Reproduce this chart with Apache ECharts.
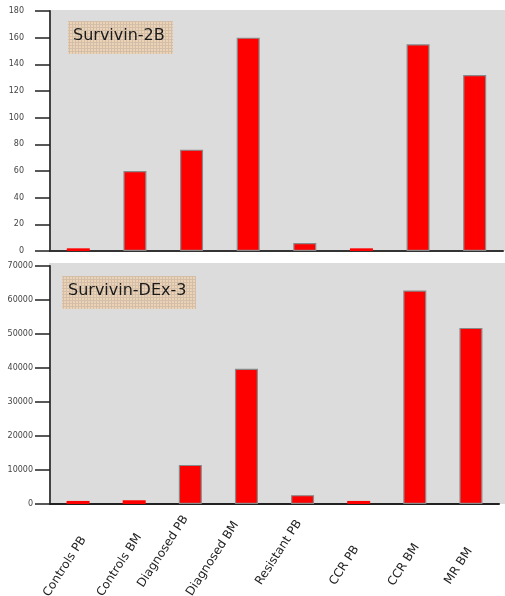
<!DOCTYPE html>
<html><head><meta charset="utf-8">
<script src="https://cdn.jsdelivr.net/npm/echarts@6/dist/echarts.min.js"></script>
<style>html,body{margin:0;padding:0;background:#fff}#c{width:505px;height:596px}</style>
</head><body><div id="c"></div>
<script>
// ---- data ----
const categories = ['Controls PB', 'Controls BM', 'Diagnosed PB', 'Diagnosed BM', 'Resistant PB', 'CCR PB', 'CCR BM', 'MR BM'];
const survivin2B = [2, 60, 76, 160, 6, 2, 155, 132];
const survivinDEx3 = [900, 1100, 11500, 39800, 2600, 900, 62800, 51800];
const panelTitles = ['Survivin-2B', 'Survivin-DEx-3'];
const ticks2B = { min: 0, max: 180, interval: 20 };
const ticksDEx3 = { min: 0, max: 70000, interval: 10000 };

// ---- styling ----
const labelPadding = [[34,16,0,0],[30,14,0,0],[0,4,6,0],[0,12,9,0],[1,7,0,0],[31,28,0,0],[36,24,0,0],[35,29,0,0]];
const FONT = 'DejaVu Sans';
const tile = document.createElement('canvas'); tile.width = 3; tile.height = 3;
const g = tile.getContext('2d');
g.fillStyle = '#ecd3b6'; g.fillRect(0, 0, 3, 3);
g.fillStyle = '#d3bfa9'; g.fillRect(0, 0, 3, 1); g.fillRect(0, 0, 1, 3);
const pattern = { image: tile, repeat: 'repeat' };

const rich = {};
labelPadding.forEach((p, i) => { rich['p' + i] = { padding: p, fontSize: 12, color: '#222', fontFamily: FONT }; });

const chart = echarts.init(document.getElementById('c'), null, { renderer: 'canvas' });

const yAxisCommon = (t, margin) => ({
  type: 'value', min: t.min, max: t.max, interval: t.interval,
  splitLine: { show: false },
  axisLine: { show: true, lineStyle: { color: '#444', width: 2 } },
  axisTick: { show: true, inside: false, length: 15, lineStyle: { color: '#222', width: 1.5 } },
  axisLabel: { margin: margin, fontSize: 8, color: '#444', fontFamily: FONT, formatter: v => String(v) }
});

const barStyle = { color: '#ff0000', borderColor: '#888', borderWidth: 1.2 };
const toItems = (arr, max) => arr.map(v => ({ value: v, itemStyle: v / max < 0.02 ? { borderWidth: 0 } : {} }));

chart.setOption({
  animation: false,
  backgroundColor: '#ffffff',
  grid: [
    { left: 50, right: 2, top: 11, height: 240, show: false, containLabel: false, outerBoundsMode: 'none' },
    { left: 50, right: 6, top: 266, height: 238, show: false, containLabel: false, outerBoundsMode: 'none' }
  ],
  graphic: [
    { type: 'rect', z: -10, silent: true, shape: { x: 50, y: 10, width: 455, height: 241 }, style: { fill: '#dcdcdc' } },
    { type: 'rect', z: -10, silent: true, shape: { x: 49, y: 263, width: 456, height: 241 }, style: { fill: '#dcdcdc' } },
    { type: 'rect', z: 10, silent: true, shape: { x: 68, y: 21, width: 105, height: 33 }, style: { fill: pattern } },
    { type: 'text', z: 11, silent: true, left: 73, top: 28, style: { text: panelTitles[0], font: '16px "DejaVu Sans"', fill: '#1a1a1a' } },
    { type: 'rect', z: 10, silent: true, shape: { x: 62, y: 276, width: 134, height: 33 }, style: { fill: pattern } },
    { type: 'text', z: 11, silent: true, left: 68, top: 283, style: { text: panelTitles[1], font: '16px "DejaVu Sans"', fill: '#1a1a1a' } }
  ],
  xAxis: [
    { type: 'category', gridIndex: 0, data: categories,
      axisLine: { show: true, lineStyle: { color: '#333', width: 2 } },
      axisTick: { show: false }, axisLabel: { show: false } },
    { type: 'category', gridIndex: 1, data: categories,
      axisLine: { show: true, lineStyle: { color: '#222', width: 2 } },
      axisTick: { show: false },
      axisLabel: { interval: 0, rotate: 57, margin: 11, fontSize: 12, color: '#222', fontFamily: FONT,
        formatter: (v, i) => '{p' + i + '|' + v + '}', rich: rich } }
  ],
  yAxis: [
    Object.assign({ gridIndex: 0 }, yAxisCommon(ticks2B, 26)),
    Object.assign({ gridIndex: 1 }, yAxisCommon(ticksDEx3, 17))
  ],
  series: [
    { type: 'bar', xAxisIndex: 0, yAxisIndex: 0, data: toItems(survivin2B, ticks2B.max), barWidth: 23, itemStyle: barStyle },
    { type: 'bar', xAxisIndex: 1, yAxisIndex: 1, data: toItems(survivinDEx3, ticksDEx3.max), barWidth: 23, itemStyle: barStyle }
  ]
});
</script>
</body></html>
